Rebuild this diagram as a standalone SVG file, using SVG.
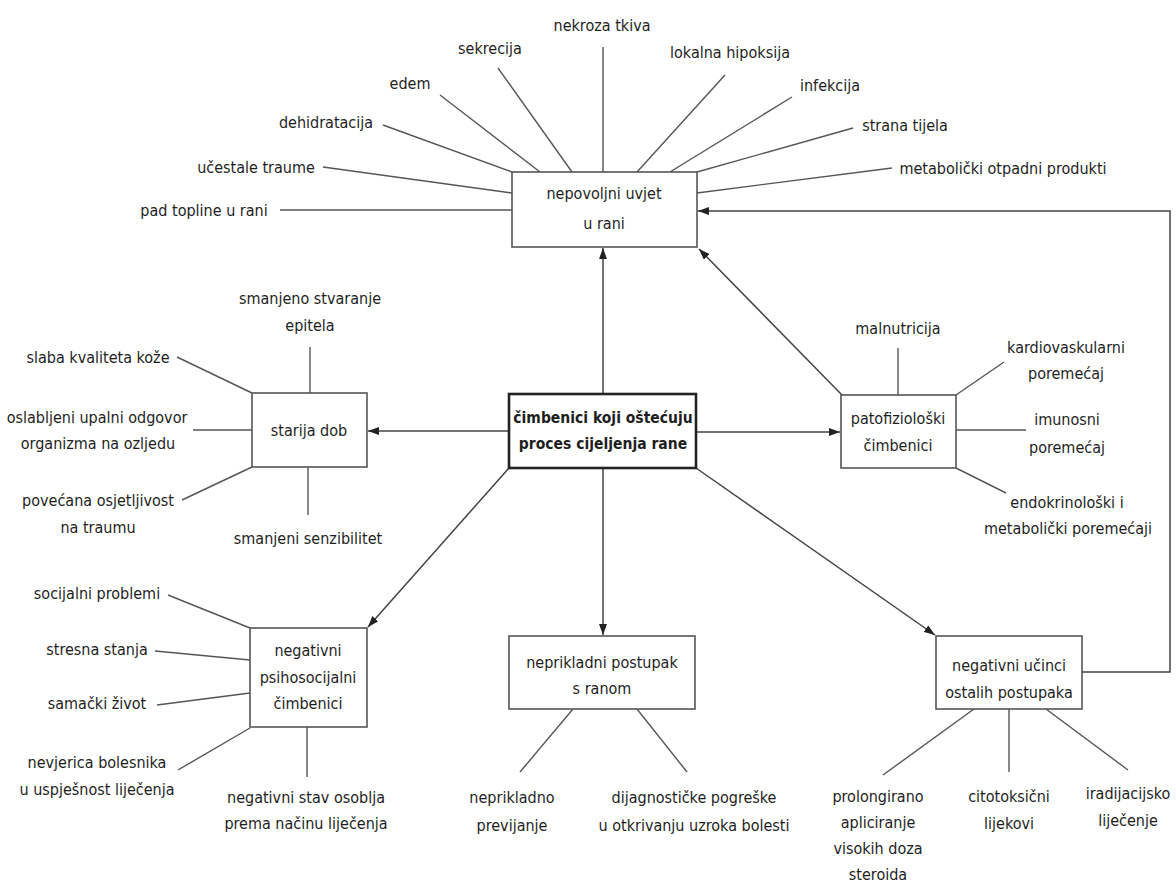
<svg xmlns="http://www.w3.org/2000/svg" width="1176" height="885" viewBox="0 0 1176 885">
<defs>
<marker id="ah" markerUnits="userSpaceOnUse" markerWidth="11" markerHeight="8" refX="11" refY="4" orient="auto">
<path d="M0,0 L11,4 L0,8 z" fill="#222"/>
</marker>
<style>
text{font-family:"Liberation Sans Narrow","DejaVu Sans Condensed","Liberation Sans",Arial,sans-serif;font-size:16px;fill:#1e1e1e;text-anchor:middle}
.box{fill:#fff;stroke:#555;stroke-width:1.6}
.main{fill:#fff;stroke:#222;stroke-width:2.6}
.bold{font-weight:bold;font-size:15.5px}
.ln{stroke:#555;stroke-width:1.4;fill:none}
.ar{stroke:#444;stroke-width:1.5;fill:none;marker-end:url(#ah)}
</style>
</defs>
<rect width="1176" height="885" fill="#fff"/>
<g id="connectors">
<line class="ln" x1="603" y1="47" x2="603" y2="172"/>
<line class="ln" x1="498" y1="68" x2="572" y2="172"/>
<line class="ln" x1="440" y1="95" x2="540" y2="172"/>
<line class="ln" x1="383" y1="125" x2="512" y2="172"/>
<line class="ln" x1="323" y1="167" x2="512" y2="193"/>
<line class="ln" x1="280" y1="210" x2="512" y2="210"/>
<line class="ln" x1="725" y1="75" x2="637" y2="172"/>
<line class="ln" x1="792" y1="97" x2="670" y2="172"/>
<line class="ln" x1="853" y1="128" x2="697" y2="172"/>
<line class="ln" x1="892" y1="168" x2="697" y2="193"/>
<polyline class="ar" points="1082,672 1170,672 1170,211 698,211"/>
<line class="ar" x1="603" y1="394" x2="603" y2="248"/>
<line class="ar" x1="509" y1="431" x2="368" y2="431"/>
<line class="ar" x1="696" y1="432" x2="840" y2="432"/>
<line class="ar" x1="842" y1="395" x2="699" y2="249"/>
<line class="ar" x1="509" y1="468" x2="368" y2="627"/>
<line class="ar" x1="603" y1="468" x2="603" y2="635"/>
<line class="ar" x1="696" y1="468" x2="935" y2="635"/>
<line class="ln" x1="310" y1="347" x2="310" y2="393"/>
<line class="ln" x1="177" y1="357" x2="252" y2="393"/>
<line class="ln" x1="193" y1="430" x2="252" y2="430"/>
<line class="ln" x1="182" y1="500" x2="252" y2="467"/>
<line class="ln" x1="308" y1="467" x2="308" y2="515"/>
<line class="ln" x1="168" y1="595" x2="250" y2="628"/>
<line class="ln" x1="155" y1="651" x2="250" y2="660"/>
<line class="ln" x1="157" y1="705" x2="250" y2="693"/>
<line class="ln" x1="178" y1="770" x2="250" y2="728"/>
<line class="ln" x1="307" y1="727" x2="307" y2="777"/>
<line class="ln" x1="898" y1="348" x2="898" y2="395"/>
<line class="ln" x1="956" y1="395" x2="1004" y2="362"/>
<line class="ln" x1="956" y1="430" x2="1026" y2="430"/>
<line class="ln" x1="956" y1="468" x2="1006" y2="493"/>
<line class="ln" x1="573" y1="709" x2="520" y2="772"/>
<line class="ln" x1="637" y1="709" x2="687" y2="772"/>
<line class="ln" x1="974" y1="709" x2="883" y2="775"/>
<line class="ln" x1="1009" y1="709" x2="1009" y2="772"/>
<line class="ln" x1="1046" y1="709" x2="1128" y2="770"/>
</g>
<g id="node-top">
<rect class="box" x="512" y="172" width="185" height="75"/>
<text x="604" y="199">nepovoljni uvjet</text>
<text x="604" y="229">u rani</text>
</g>
<g id="top-labels">
<text x="602" y="31">nekroza tkiva</text>
<text x="490" y="54">sekrecija</text>
<text x="410" y="89">edem</text>
<text x="326" y="128">dehidratacija</text>
<text x="256" y="173">učestale traume</text>
<text x="204" y="216">pad topline u rani</text>
<text x="730" y="58">lokalna hipoksija</text>
<text x="830" y="91">infekcija</text>
<text x="905" y="131">strana tijela</text>
<text x="1003" y="174">metabolički otpadni produkti</text>
</g>
<g id="node-center">
<rect class="main" x="509" y="394" width="187" height="74"/>
<text class="bold" x="603" y="423">čimbenici koji oštećuju</text>
<text class="bold" x="603" y="449">proces cijeljenja rane</text>
</g>
<g id="node-starija">
<rect class="box" x="252" y="393" width="115" height="74"/>
<text x="309" y="436">starija dob</text>
<text x="310" y="304">smanjeno stvaranje</text>
<text x="310" y="331">epitela</text>
<text x="98" y="363">slaba kvaliteta kože</text>
<text x="97" y="423">oslabljeni upalni odgovor</text>
<text x="98" y="449">organizma na ozljedu</text>
<text x="98" y="506">povećana osjetljivost</text>
<text x="98" y="533">na traumu</text>
<text x="308" y="544">smanjeni senzibilitet</text>
</g>
<g id="node-psiho">
<rect class="box" x="250" y="628" width="117" height="99"/>
<text x="308" y="656">negativni</text>
<text x="308" y="683">psihosocijalni</text>
<text x="308" y="709">čimbenici</text>
<text x="97" y="599">socijalni problemi</text>
<text x="97" y="655">stresna stanja</text>
<text x="97" y="709">samački život</text>
<text x="97" y="768">nevjerica bolesnika</text>
<text x="97" y="795">u uspješnost liječenja</text>
<text x="306" y="803">negativni stav osoblja</text>
<text x="306" y="829">prema načinu liječenja</text>
</g>
<g id="node-patofiz">
<rect class="box" x="841" y="395" width="115" height="73"/>
<text x="898" y="424">patofiziološki</text>
<text x="898" y="451">čimbenici</text>
<text x="898" y="334">malnutricija</text>
<text x="1066" y="353">kardiovaskularni</text>
<text x="1066" y="379">poremećaj</text>
<text x="1067" y="425">imunosni</text>
<text x="1067" y="453">poremećaj</text>
<text x="1067" y="508">endokrinološki i</text>
<text x="1068" y="534">metabolički poremećaji</text>
</g>
<g id="node-neprikladni">
<rect class="box" x="509" y="636" width="186" height="73"/>
<text x="602" y="668">neprikladni postupak</text>
<text x="602" y="694">s ranom</text>
<text x="512" y="803">neprikladno</text>
<text x="512" y="831">previjanje</text>
<text x="694" y="803">dijagnostičke pogreške</text>
<text x="694" y="831">u otkrivanju uzroka bolesti</text>
</g>
<g id="node-ucinci">
<rect class="box" x="936" y="636" width="146" height="73"/>
<text x="1009" y="671">negativni učinci</text>
<text x="1009" y="698">ostalih postupaka</text>
<text x="878" y="802">prolongirano</text>
<text x="878" y="828">apliciranje</text>
<text x="878" y="854">visokih doza</text>
<text x="878" y="880">steroida</text>
<text x="1009" y="802">citotoksični</text>
<text x="1009" y="829">lijekovi</text>
<text x="1128" y="799">iradijacijsko</text>
<text x="1128" y="826">liječenje</text>
</g>
</svg>
